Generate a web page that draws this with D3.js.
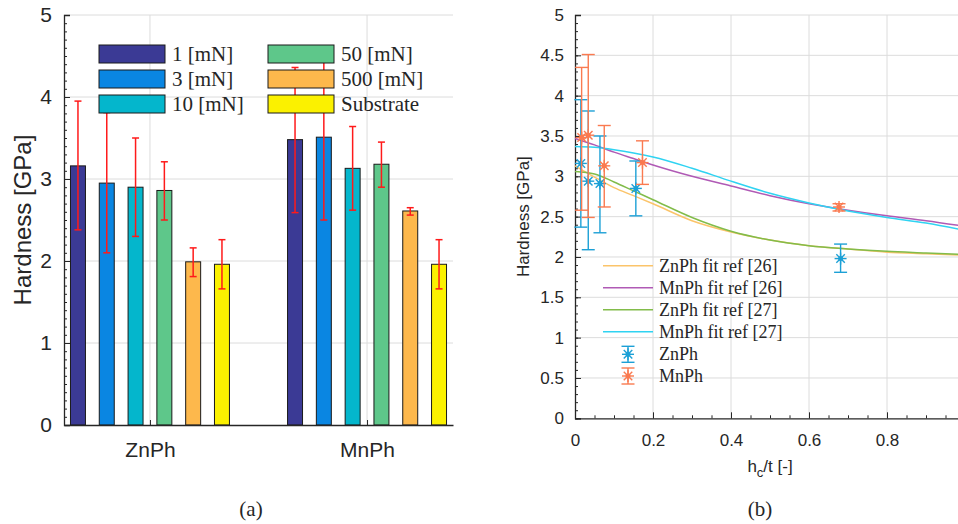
<!DOCTYPE html>
<html>
<head>
<meta charset="utf-8">
<script src="https://cdn.jsdelivr.net/npm/d3@7"></script>
<style>
  body { margin: 0; background: #fff; }
  .axis path, .axis line { stroke: #262626; }
  .axis text { fill: #262626; font-family: "Liberation Sans", Arial, sans-serif; }
  .grid line { stroke: #dcdcdc; stroke-width: 1; }
  .serif { font-family: "Liberation Serif", "DejaVu Serif", serif; fill: #262626; }
</style>
</head>
<body>
<div id="chart-area"></div>
<script>
// ---- panel (a): bar data ----
const groups = ["ZnPh", "MnPh"]
const loads = ["1 [mN]", "3 [mN]", "10 [mN]", "50 [mN]", "500 [mN]", "Substrate"]
const loadColors = ["#3b3a95", "#0a86e2", "#04b6cc", "#5ec78a", "#fdb84c", "#fbf100"]
const znMean = [3.16, 2.95, 2.90, 2.86, 1.99, 1.96]
const znLow  = [2.38, 2.10, 2.30, 2.50, 1.81, 1.66]
const znHigh = [3.95, 3.81, 3.50, 3.21, 2.16, 2.26]
const mnMean = [3.48, 3.51, 3.13, 3.18, 2.61, 1.96]
const mnLow  = [2.59, 2.50, 2.62, 2.90, 2.56, 1.66]
const mnHigh = [4.36, 4.52, 3.64, 3.45, 2.65, 2.26]
const barTicks = [0, 1, 2, 3, 4, 5]

// ---- panel (b): measured points and fits ----
const ratioZn = [0.015, 0.034, 0.064, 0.156, 0.681]
const hardZn = [3.16, 2.94, 2.91, 2.85, 1.98]
const hardZnLow = [2.37, 2.09, 2.30, 2.51, 1.81]
const hardZnHigh = [3.95, 3.81, 3.50, 3.19, 2.16]
const ratioMn = [0.017, 0.034, 0.075, 0.173, 0.677]
const hardMn = [3.48, 3.51, 3.13, 3.17, 2.62]
const hardMnLow = [2.58, 2.49, 2.62, 2.90, 2.57]
const hardMnHigh = [4.35, 4.51, 3.63, 3.44, 2.66]

const fitX = [0, 0.05, 0.1, 0.15, 0.2, 0.3, 0.4, 0.5, 0.6, 0.7, 0.8, 0.9, 1.0]
const fitZn26 = [3.13, 2.99, 2.86, 2.76, 2.66, 2.45, 2.31, 2.21, 2.14, 2.10, 2.06, 2.04, 2.02]
const fitMn26 = [3.47, 3.39, 3.30, 3.22, 3.14, 3.00, 2.88, 2.76, 2.66, 2.58, 2.51, 2.45, 2.38]
const fitZn27 = [3.06, 3.03, 2.93, 2.82, 2.71, 2.49, 2.32, 2.21, 2.14, 2.10, 2.07, 2.05, 2.03]
const fitMn27 = [3.37, 3.36, 3.33, 3.29, 3.24, 3.10, 2.94, 2.79, 2.67, 2.57, 2.49, 2.42, 2.33]
const fitNames = ["ZnPh fit ref [26]", "MnPh fit ref [26]", "ZnPh fit ref [27]", "MnPh fit ref [27]"]
const fitColors = ["#fbc46a", "#b05ab5", "#82bc4a", "#2fd3f2"]
const pointNames = ["ZnPh", "MnPh"]
const pointColors = ["#1ca0d6", "#fa7a50"]
const xTicksB = [0, 0.2, 0.4, 0.6, 0.8]

const svg = d3.select("#chart-area").append("svg")
    .attr("width", 958)
    .attr("height", 524)

svg.append("rect").attr("width", 958).attr("height", 524).attr("fill", "#fff")

// ================= panel (a) =================
const a = {left: 64, right: 453, top: 15, bottom: 425}

const yA = d3.scaleLinear().domain([0, 5]).range([a.bottom, a.top])
const xA = d3.scalePoint().domain(groups).range([a.left, a.right]).padding(0.396)
const xInner = d3.scaleBand().domain(loads).range([-86.4, 86.4])
    .paddingInner(0.48).paddingOuter(0.24)

const gA = svg.append("g")

// grid
const gridA = gA.append("g").attr("class", "grid")
gridA.selectAll(".h").data(barTicks.slice(1)).join("line")
    .attr("x1", a.left).attr("x2", a.right)
    .attr("y1", d => yA(d)).attr("y2", d => yA(d))
gridA.selectAll(".v").data(groups).join("line")
    .attr("x1", d => xA(d)).attr("x2", d => xA(d))
    .attr("y1", a.top).attr("y2", a.bottom)

// bars
const barData = []
groups.forEach((gname, gi) => {
    const mean = gi === 0 ? znMean : mnMean
    const low = gi === 0 ? znLow : mnLow
    const high = gi === 0 ? znHigh : mnHigh
    loads.forEach((l, i) => {
        barData.push({group: gname, load: l, i: i, v: mean[i], lo: low[i], hi: high[i]})
    })
})

const cx = d => xA(d.group) + xInner(d.load) + xInner.bandwidth() / 2

gA.selectAll(".bar").data(barData).join("rect")
    .attr("class", "bar")
    .attr("x", d => xA(d.group) + xInner(d.load))
    .attr("width", xInner.bandwidth())
    .attr("y", d => yA(d.v))
    .attr("height", d => yA(0) - yA(d.v))
    .attr("fill", d => loadColors[d.i])
    .attr("stroke", "#1a1a1a")
    .attr("stroke-width", 1)

// error bars
const errA = gA.append("g").attr("stroke", "#ff1a1a").attr("stroke-width", 1.5)
errA.selectAll(".e").data(barData).join("line")
    .attr("x1", cx).attr("x2", cx)
    .attr("y1", d => yA(d.lo)).attr("y2", d => yA(d.hi))
errA.selectAll(".cl").data(barData).join("line")
    .attr("x1", d => cx(d) - 3.5).attr("x2", d => cx(d) + 3.5)
    .attr("y1", d => yA(d.lo)).attr("y2", d => yA(d.lo))
errA.selectAll(".ch").data(barData).join("line")
    .attr("x1", d => cx(d) - 3.5).attr("x2", d => cx(d) + 3.5)
    .attr("y1", d => yA(d.hi)).attr("y2", d => yA(d.hi))

// axes (ticks point inward)
gA.append("g").attr("class", "axis")
    .attr("transform", `translate(${a.left},0)`)
    .call(d3.axisLeft(yA).tickValues(d3.range(0, 5.01, 0.1)).tickSize(-3).tickFormat(""))
    .select(".domain").remove()
gA.append("g").attr("class", "axis")
    .attr("transform", `translate(${a.left},0)`)
    .call(d3.axisLeft(yA).tickValues(barTicks).tickSize(-6).tickPadding(12).tickFormat(d3.format("d")))
    .call(g => g.selectAll("text").attr("font-size", "21px"))
    .select(".domain").attr("stroke-width", 1.3)
gA.append("g").attr("class", "axis")
    .attr("transform", `translate(0,${a.bottom})`)
    .call(d3.axisBottom(xA).tickSize(-5).tickPadding(17).tickSizeOuter(0))
    .call(g => g.selectAll("text").attr("font-size", "21px"))
    .select(".domain").attr("stroke-width", 1.3)

gA.append("text")
    .attr("transform", `translate(31,${(a.top + a.bottom) / 2}) rotate(-90)`)
    .attr("text-anchor", "middle")
    .attr("font-family", "Liberation Sans, Arial, sans-serif")
    .attr("font-size", "24px")
    .attr("fill", "#262626")
    .text("Hardness [GPa]")

// legend (a)
const legA = gA.append("g")
loads.forEach((l, i) => {
    const col = Math.floor(i / 3), row = i % 3
    const lx = col === 0 ? 99 : 268
    const ly = 45 + row * 25
    legA.append("rect")
        .attr("x", lx).attr("y", ly)
        .attr("width", 66).attr("height", 18)
        .attr("fill", loadColors[i])
        .attr("stroke", "#1a1a1a")
    legA.append("text")
        .attr("class", "serif")
        .attr("x", lx + 73).attr("y", ly + 16)
        .attr("font-size", "21px")
        .text(l)
})

svg.append("text").attr("class", "serif")
    .attr("x", 251).attr("y", 516)
    .attr("text-anchor", "middle")
    .attr("font-size", "21px")
    .text("(a)")

// ================= panel (b) =================
const b = {left: 575, right: 965, top: 15, bottom: 418.3}

const xB = d3.scaleLinear().domain([0, 1]).range([b.left, b.right])
const yB = d3.scaleLinear().domain([0, 5]).range([b.bottom, b.top])

const gB = svg.append("g")

const gridB = gB.append("g").attr("class", "grid")
gridB.selectAll(".h").data(d3.range(0.5, 5.01, 0.5)).join("line")
    .attr("x1", b.left).attr("x2", b.right)
    .attr("y1", d => yB(d)).attr("y2", d => yB(d))
gridB.selectAll(".v").data(xTicksB.slice(1)).join("line")
    .attr("x1", d => xB(d)).attr("x2", d => xB(d))
    .attr("y1", b.top).attr("y2", b.bottom)

// minor + major ticks
gB.append("g").attr("class", "axis")
    .attr("transform", `translate(${b.left},0)`)
    .call(d3.axisLeft(yB).tickValues(d3.range(0, 5.01, 0.1)).tickSize(-3).tickFormat(""))
    .select(".domain").remove()
gB.append("g").attr("class", "axis")
    .attr("transform", `translate(0,${b.bottom})`)
    .call(d3.axisBottom(xB).tickValues(d3.range(0, 1.001, 0.05)).tickSize(-3).tickFormat(""))
    .select(".domain").remove()
gB.append("g").attr("class", "axis")
    .attr("transform", `translate(${b.left},0)`)
    .call(d3.axisLeft(yB).tickValues(d3.range(0, 5.01, 0.5)).tickSize(-6).tickPadding(11)
        .tickFormat(d3.format("~g")))
    .call(g => g.selectAll("text").attr("font-size", "17px"))
    .select(".domain").attr("stroke-width", 1.3)
gB.append("g").attr("class", "axis")
    .attr("transform", `translate(0,${b.bottom})`)
    .call(d3.axisBottom(xB).tickValues(xTicksB).tickSize(-6).tickPadding(16)
        .tickFormat(d3.format("~g")).tickSizeOuter(0))
    .call(g => g.selectAll("text").attr("font-size", "17px"))
    .select(".domain").attr("stroke-width", 1.3)

gB.append("text")
    .attr("transform", `translate(529,${(b.top + b.bottom) / 2}) rotate(-90)`)
    .attr("text-anchor", "middle")
    .attr("font-family", "Liberation Sans, Arial, sans-serif")
    .attr("font-size", "17px")
    .attr("fill", "#262626")
    .text("Hardness [GPa]")

const xlab = gB.append("text")
    .attr("x", 770).attr("y", 472)
    .attr("text-anchor", "middle")
    .attr("font-family", "Liberation Sans, Arial, sans-serif")
    .attr("font-size", "17px")
    .attr("fill", "#262626")
xlab.append("tspan").text("h")
xlab.append("tspan").attr("dy", 5).attr("font-size", "13px").text("c")
xlab.append("tspan").attr("dy", -5).text("/t [-]")

// fit curves
const line = d3.line()
    .x(d => xB(d[0]))
    .y(d => yB(d[1]))
    .curve(d3.curveMonotoneX)

const fits = [fitZn26, fitMn26, fitZn27, fitMn27]
fits.forEach((f, i) => {
    gB.append("path")
        .attr("fill", "none")
        .attr("stroke", fitColors[i])
        .attr("stroke-width", 1.5)
        .attr("d", line(fitX.map((x, j) => [x, f[j]])))
})

// asterisk marker with error bar
const drawPoint = (g, x, y, lo, hi, color) => {
    const p = g.append("g").attr("stroke", color).attr("stroke-width", 1.4)
    p.append("line").attr("x1", x).attr("x2", x).attr("y1", lo).attr("y2", hi)
    p.append("line").attr("x1", x - 6.5).attr("x2", x + 6.5).attr("y1", lo).attr("y2", lo)
    p.append("line").attr("x1", x - 6.5).attr("x2", x + 6.5).attr("y1", hi).attr("y2", hi)
    const r = 6
    ;[0, 45, 90, 135].forEach(ang => {
        const dx = r * Math.cos(ang * Math.PI / 180), dy = r * Math.sin(ang * Math.PI / 180)
        p.append("line").attr("x1", x - dx).attr("x2", x + dx).attr("y1", y - dy).attr("y2", y + dy)
    })
    p.append("circle").attr("cx", x).attr("cy", y).attr("r", 1.8).attr("fill", color)
}

const ptsB = gB.append("g")
ratioZn.forEach((r, i) => {
    drawPoint(ptsB, xB(r), yB(hardZn[i]), yB(hardZnLow[i]), yB(hardZnHigh[i]), pointColors[0])
})
ratioMn.forEach((r, i) => {
    drawPoint(ptsB, xB(r), yB(hardMn[i]), yB(hardMnLow[i]), yB(hardMnHigh[i]), pointColors[1])
})

// legend (b)
const legB = gB.append("g")
fitNames.forEach((n, i) => {
    const ly = 265.7 + i * 22
    legB.append("line")
        .attr("x1", 603).attr("x2", 653)
        .attr("y1", ly).attr("y2", ly)
        .attr("stroke", fitColors[i]).attr("stroke-width", 1.5)
    legB.append("text").attr("class", "serif")
        .attr("x", 659).attr("y", ly + 6)
        .attr("font-size", "18px")
        .text(n)
})
pointNames.forEach((n, i) => {
    const ly = 354.3 + i * 21.7
    drawPoint(legB, 628, ly, ly + 8, ly - 8, pointColors[i])
    legB.append("text").attr("class", "serif")
        .attr("x", 659).attr("y", ly + 6)
        .attr("font-size", "18px")
        .text(n)
})

svg.append("text").attr("class", "serif")
    .attr("x", 760).attr("y", 516)
    .attr("text-anchor", "middle")
    .attr("font-size", "21px")
    .text("(b)")
</script>
</body>
</html>
